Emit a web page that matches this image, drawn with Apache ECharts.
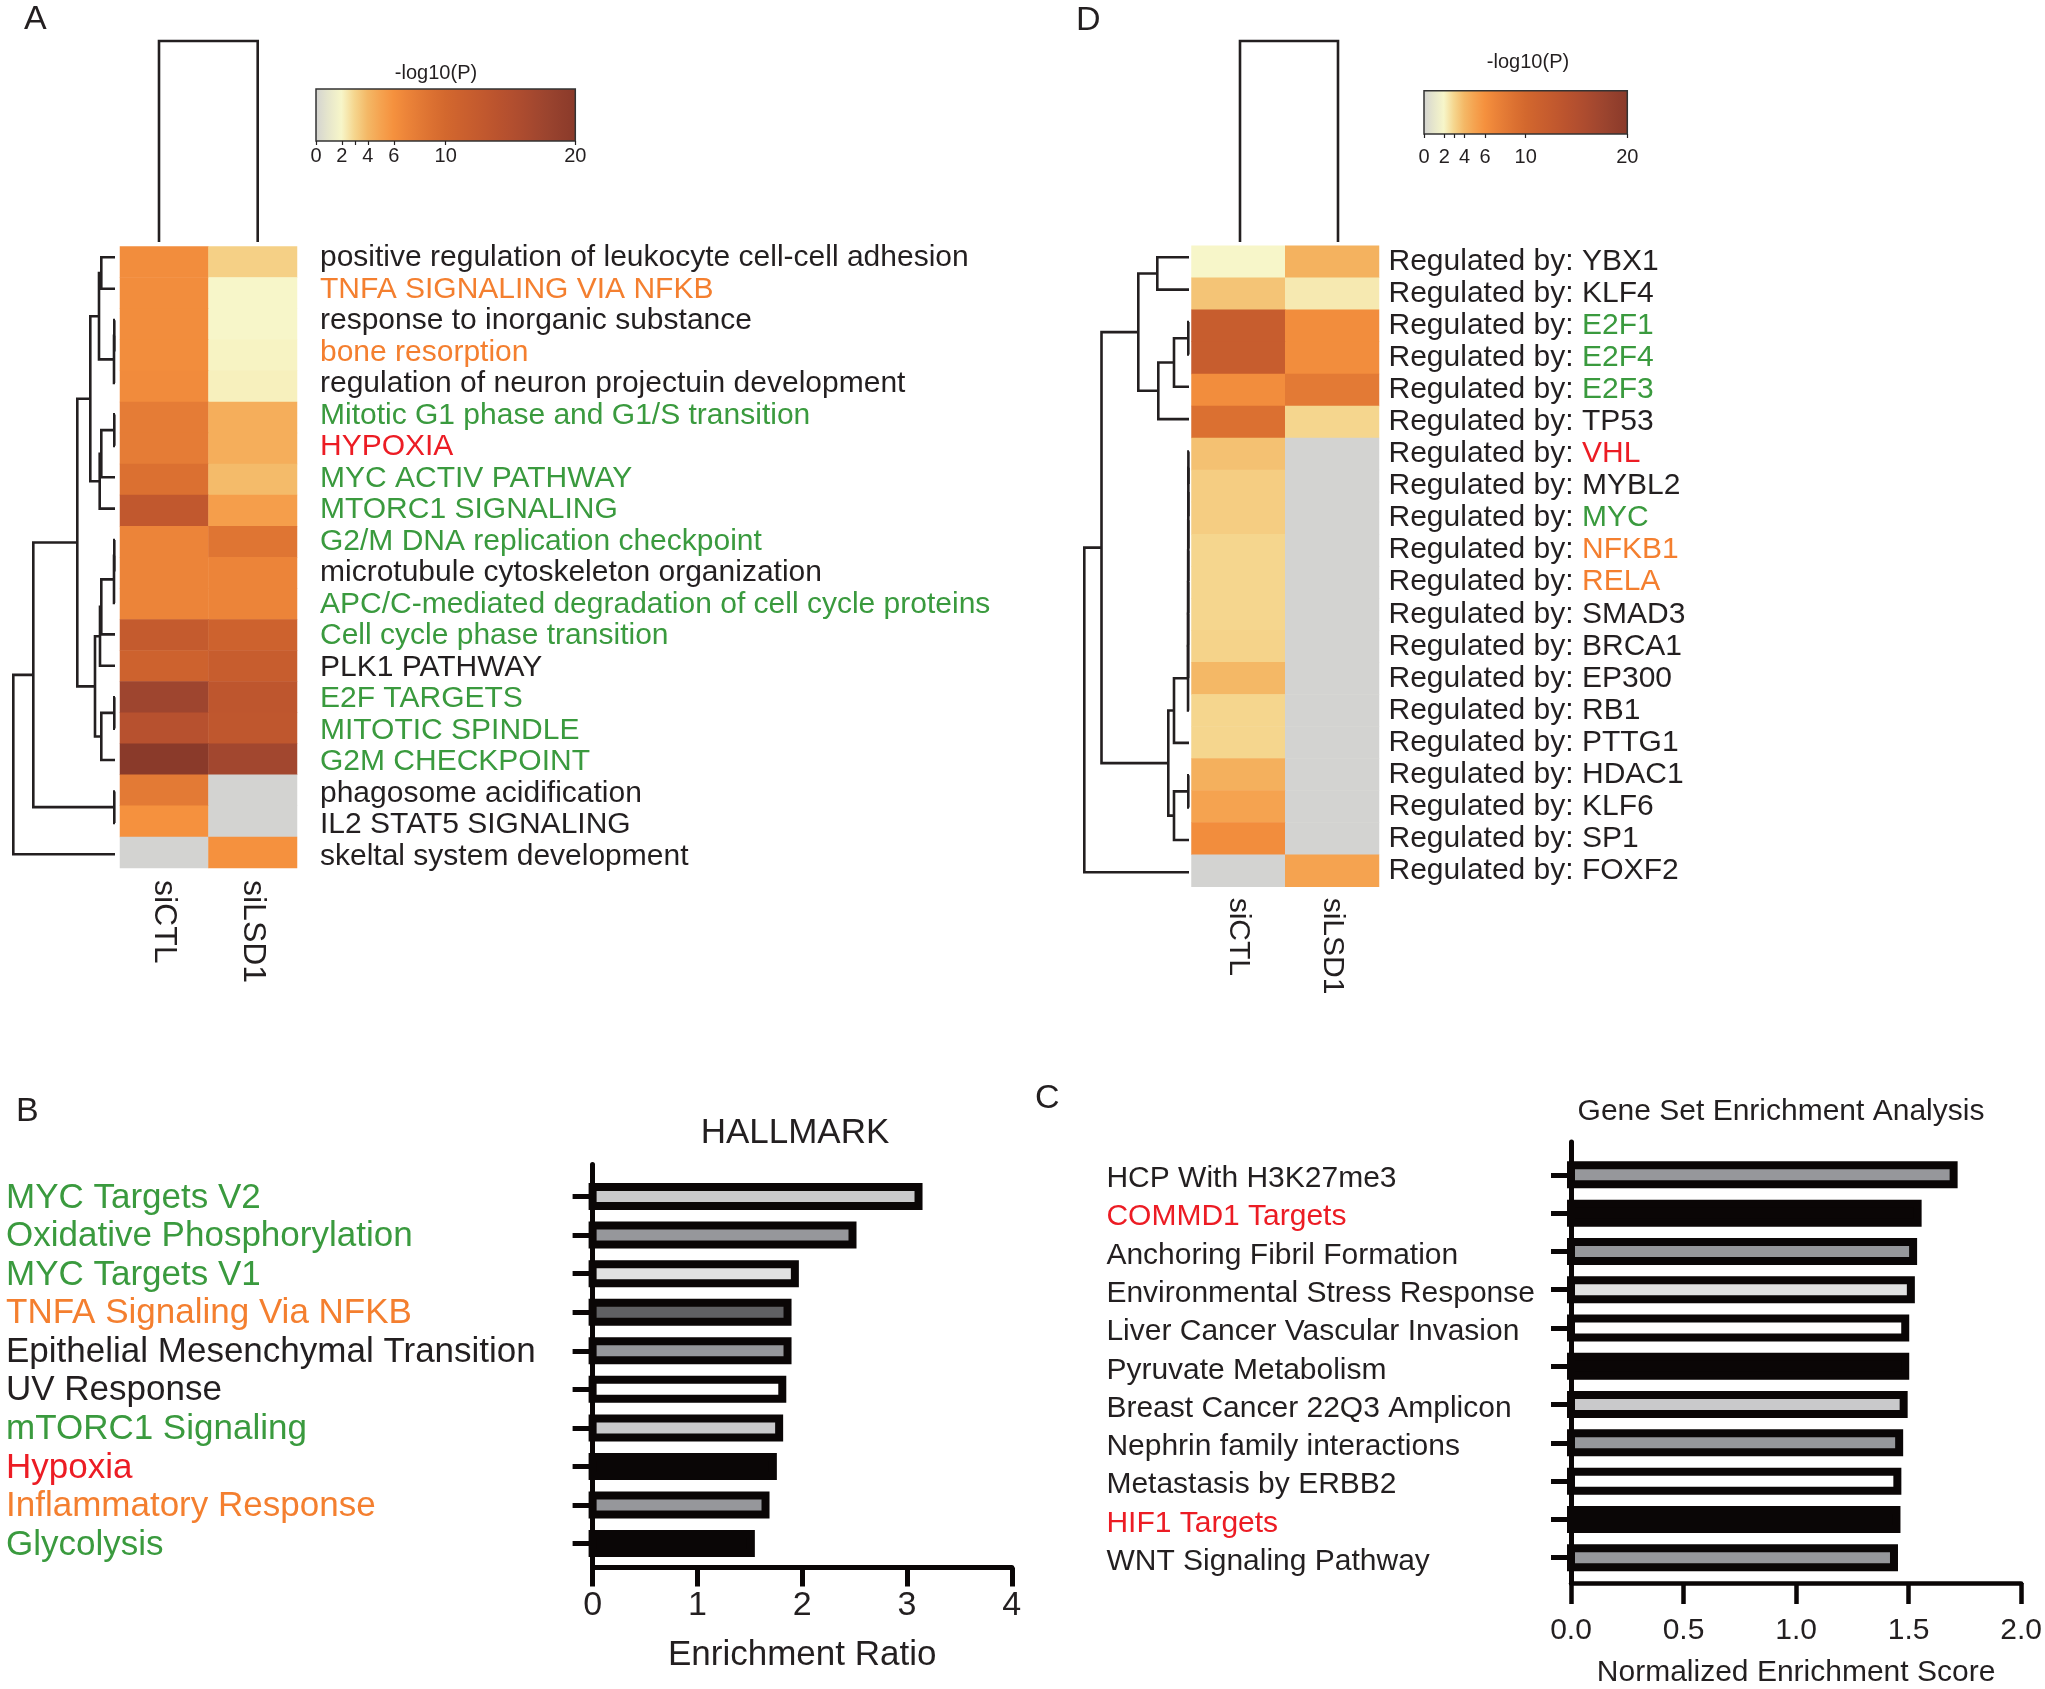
<!DOCTYPE html>
<html><head><meta charset="utf-8">
<script src="https://cdn.jsdelivr.net/npm/echarts@6/dist/echarts.min.js"></script>
<style>html,body{margin:0;padding:0;background:#fff}#c{width:2045px;height:1689px}</style>
</head><body><div id="c"></div><script>
// ---------------- DATA ----------------
// Panel A
const aRows = ['positive regulation of leukocyte cell-cell adhesion','TNFA SIGNALING VIA NFKB','response to inorganic substance','bone resorption','regulation of neuron projectuin development','Mitotic G1 phase and G1/S transition','HYPOXIA','MYC ACTIV PATHWAY','MTORC1 SIGNALING','G2/M DNA replication checkpoint','microtubule cytoskeleton organization','APC/C-mediated degradation of cell cycle proteins','Cell cycle phase transition','PLK1 PATHWAY','E2F TARGETS','MITOTIC SPINDLE','G2M CHECKPOINT','phagosome acidification','IL2 STAT5 SIGNALING','skeltal system development'];
const aRowTone = ['k','o','k','o','k','g','r','g','g','g','k','g','g','k','g','g','g','k','k','k'];
const samples = ['siCTL','siLSD1'];
const aSiCTL  = [6.3,6.3,6.3,6.3,6.5,7.8,7.8,9,13,7,7,7,12.5,11,17.5,14.5,20,8,6,0];
const aSiLSD1 = [3.2,2.0,2.0,2.1,2.2,4.5,4.5,3.9,5.3,8.5,7,7,11,12,13.5,13.3,17,0,0,6];
// row dendrogram merges: [childA, childB, height]; 'cN' = N-th merge
const aMerges = [[0,1,13.7],[2,3,0.7],['c1',4,1.0],['c0','c2',16],[5,6,0.7],['c4',7,13.7],['c5',8,15.3],['c3','c6',24.7],[9,10,0.7],['c8',11,1.0],['c9',12,13.7],['c10',13,15],[14,15,0.7],['c12',16,13.7],['c11','c13',20],['c7','c14',37.7],[17,18,0.7],['c15','c16',81.7],['c17',19,101.7]];
const colMerges = [[0,1,1]];
// Panel D
const dGenes = ['YBX1','KLF4','E2F1','E2F4','E2F3','TP53','VHL','MYBL2','MYC','NFKB1','RELA','SMAD3','BRCA1','EP300','RB1','PTTG1','HDAC1','KLF6','SP1','FOXF2'];
const dGeneTone = ['k','k','g','g','g','k','r','k','g','o','o','k','k','k','k','k','k','k','k','k'];
const dSiCTL  = [2,3.6,12,12,6.3,9,3.7,3.3,3.3,3.0,3.0,3.0,3.1,4.0,3.0,3.0,4.4,5.0,6.3,0];
const dSiLSD1 = [4.3,2.4,6.3,6.3,8,3,0,0,0,0,0,0,0,0,0,0,0,0,0,5];
const dMerges = [[0,1,31.7],[2,3,0.7],['c1',4,15],['c2',5,30.7],['c0','c3',50.7],[6,7,0.6],['c5',8,0.65],['c6',9,0.7],['c7',10,0.75],['c8',11,0.8],['c9',12,0.85],['c10',13,0.9],['c11',14,0.95],['c12',15,15],[16,17,0.7],['c14',18,15],['c13','c15',20.7],['c4','c16',87.5],['c17',19,104.7]];
// colour bar ticks
const cbTicks = [0,2,3,4,6,10,20];
const cbLabels = [0,2,4,6,10,20];
// Panel B
const bCats = ['MYC Targets V2','Oxidative Phosphorylation','MYC Targets V1','TNFA Signaling Via NFKB','Epithelial Mesenchymal Transition','UV Response','mTORC1 Signaling','Hypoxia','Inflammatory Response','Glycolysis'];
const bVals = [3.11,2.48,1.93,1.86,1.86,1.81,1.78,1.72,1.65,1.51];
const bTone = ['g','g','g','o','k','k','g','r','o','g'];
const bFill = ['#c9c9cb','#96979b','#e1e1e1','#606063','#96979b','#ffffff','#c9c9cb','#0a0606','#96979b','#0a0606'];
// Panel C
const cCats = ['HCP With H3K27me3','COMMD1 Targets','Anchoring Fibril Formation','Environmental Stress Response','Liver Cancer Vascular Invasion','Pyruvate Metabolism','Breast Cancer 22Q3 Amplicon','Nephrin family interactions','Metastasis by ERBB2','HIF1 Targets','WNT Signaling Pathway'];
const cVals = [1.70,1.54,1.52,1.51,1.485,1.485,1.478,1.458,1.45,1.446,1.435];
const cTone = ['k','r','k','k','k','k','k','k','k','r','k'];
const cFill = ['#96979b','#0a0606','#96979b','#e1e1e1','#ffffff','#0a0606','#c9c9cb','#96979b','#ffffff','#0a0606','#96979b'];

// ---------------- STYLE ----------------
const FONT = "'Liberation Sans', Arial, sans-serif";
const INK = '#231f20', BAR = '#0a0606';
const TONES = {k: INK, g: '#3a9a3e', o: '#f47f2f', r: '#ec1c24'};
const CMAP = ['#d3d3d1','#e6e6cc','#f7f6c9','#f5d68e','#f4b866','#f5a350','#f5913e','#ec8439','#e37a35','#db7031','#d3682e','#cd622e','#c75d2e','#c1582e','#ba532e','#b34f2f','#ab4b2f','#a2472f','#99432e','#913e2c','#8a3a2a'];
function rich(size, pad){const r={};for(const k in TONES){r[k]={color:TONES[k],fontSize:size,fontFamily:FONT,padding:pad||0};}return r;}

function layoutDendro(merges){
  const pos={}, ht={};
  const get=k=>typeof k==='number'?[k,0]:[pos[k],ht[k]];
  return merges.map((m,j)=>{const [p1,h1]=get(m[0]);const [p2,h2]=get(m[1]);pos['c'+j]=(p1+p2)/2;ht['c'+j]=m[2];return [p1,p2,m[2],h1,h2];});
}
function dendroRender(orient){
  return function(params, api){
    const p1=api.value(0),p2=api.value(1),h=api.value(2),h1=api.value(3),h2=api.value(4);
    const raw = orient==='row'?[[h1,p1],[h,p1],[h,p2],[h2,p2]]:[[p1,h1],[p1,h],[p2,h],[p2,h2]];
    return {type:'polyline',shape:{points:raw.map(p=>api.coord(p))},style:{stroke:INK,lineWidth:2.6,fill:null}};
  };
}
function barRender(fills){
  return function(params, api){
    const v=api.value(0), i=api.value(1);
    const p0=api.coord([0,i]), p1=api.coord([v,i]); const h=19;
    return {type:'rect',shape:{x:p0[0],y:p0[1]-h/2,width:p1[0]-p0[0],height:h},style:{fill:fills[params.dataIndex],stroke:BAR,lineWidth:8}};
  };
}
const heatA=[], heatD=[];
aRows.forEach((r,i)=>{heatA.push([0,i,aSiCTL[i]]);heatA.push([1,i,aSiLSD1[i]]);});
dGenes.forEach((r,i)=>{heatD.push([0,i,dSiCTL[i]]);heatD.push([1,i,dSiLSD1[i]]);});
const dRows = dGenes.map(g=>'Regulated by: '+g);
const idx = n=>Array.from({length:n},(_, i)=>i);

const hidden = {show:false};
function hiddenAxis(extra){return Object.assign({type:'value',show:false,splitLine:hidden},extra);}
function cbAxis(margin){return {type:'value',min:0,max:20,position:'bottom',axisLine:hidden,splitLine:hidden,
  axisTick:{show:true,customValues:cbTicks,length:4,lineStyle:{color:INK,width:1.2}},
  axisLabel:{customValues:cbLabels,fontSize:20,fontFamily:FONT,color:INK,margin:margin}};}
function barYAxis(cats,tones,min,max,margin,size,pad){return {type:'value',inverse:true,min:min,max:max,
  axisLine:{show:true,onZero:false,lineStyle:{color:BAR,width:5}},splitLine:hidden,
  axisTick:{show:true,customValues:idx(cats.length),length:20,lineStyle:{color:BAR,width:5}},
  axisLabel:{customValues:idx(cats.length),align:'left',margin:margin,
    formatter:v=>{const i=Math.round(v);return '{'+tones[i]+'|'+cats[i]+'}';},rich:rich(size,pad)}};}
function gradient(){return new echarts.graphic.LinearGradient(0,0,1,0,CMAP.map((c,i)=>({offset:i/(CMAP.length-1),color:c})));}
function txt(x,y,s,size,align){return {type:'text',x:x,y:y,z:10,style:{text:s,fontSize:size,fontFamily:FONT,fill:INK,align:align||'center',verticalAlign:'middle'}};}

const option = {
  animation:false, backgroundColor:'#fff',
  grid:[
    {left:120,top:246.5,width:177,height:621.5},        //0 A heat
    {left:13.3,top:257.3,width:101.7,height:597},      //1 A row dendro
    {left:159,top:41,width:98.7,height:201},           //2 A col dendro
    {left:316,top:89,width:259.3,height:52},           //3 A colourbar
    {left:1191.5,top:245.7,width:187.5,height:641},    //4 D heat
    {left:1084.3,top:257.3,width:104.7,height:615},    //5 D row dendro
    {left:1240,top:41,width:98,height:201},            //6 D col dendro
    {left:1424,top:90.7,width:203.3,height:43.3},      //7 D colourbar
    {left:592.6,top:1164.5,width:419.2,height:403},    //8 B
    {left:1571,top:1142,width:450.6,height:443},       //9 C
    {left:120,top:242.2,width:177,height:630}          //10 A row labels
  ],
  xAxis:[
    {gridIndex:0,type:'category',data:samples,axisLine:hidden,axisTick:hidden,splitLine:hidden,
      axisLabel:{rotate:-90,margin:12,fontSize:32,fontFamily:FONT,color:INK}},
    hiddenAxis({gridIndex:1,min:0,max:101.7,inverse:true}),
    hiddenAxis({gridIndex:2,min:0,max:1}),
    Object.assign(cbAxis(5),{gridIndex:3}),
    {gridIndex:4,type:'category',data:samples,axisLine:hidden,axisTick:hidden,splitLine:hidden,
      axisLabel:{rotate:-90,margin:11,fontSize:30,fontFamily:FONT,color:INK}},
    hiddenAxis({gridIndex:5,min:0,max:104.7,inverse:true}),
    hiddenAxis({gridIndex:6,min:0,max:1}),
    Object.assign(cbAxis(13),{gridIndex:7}),
    {gridIndex:8,type:'value',min:0,max:4,interval:1,splitLine:hidden,
      axisLine:{show:true,onZero:false,lineStyle:{color:BAR,width:5}},
      axisTick:{show:true,length:19,lineStyle:{color:BAR,width:5}},
      axisLabel:{fontSize:34,fontFamily:FONT,color:INK,margin:21},
      name:'Enrichment Ratio',nameLocation:'middle',nameGap:70,nameTextStyle:{fontSize:35,fontFamily:FONT,color:INK}},
    {gridIndex:9,type:'value',min:0,max:2,interval:0.5,splitLine:hidden,
      axisLine:{show:true,onZero:false,lineStyle:{color:BAR,width:4.5}},
      axisTick:{show:true,length:21,lineStyle:{color:BAR,width:4.5}},
      axisLabel:{fontSize:30,fontFamily:FONT,color:INK,margin:33,formatter:v=>v.toFixed(1)},
      name:'Normalized Enrichment Score',nameLocation:'middle',nameGap:75,nameTextStyle:{fontSize:30,fontFamily:FONT,color:INK}},
    hiddenAxis({gridIndex:10,min:0,max:1})
  ],
  yAxis:[
    {gridIndex:0,type:'category',data:aRows,inverse:true,show:false},
    hiddenAxis({gridIndex:1,min:0,max:19,inverse:true}),
    hiddenAxis({gridIndex:2,min:0,max:1}),
    hiddenAxis({gridIndex:3,min:0,max:1}),
    {gridIndex:4,type:'category',data:dRows,inverse:true,position:'right',axisLine:hidden,axisTick:hidden,splitLine:hidden,
      axisLabel:{margin:9.5,align:'left',formatter:(v,i)=>'{k|Regulated by: }{'+dGeneTone[i]+'|'+dGenes[i]+'}',rich:rich(30)}},
    hiddenAxis({gridIndex:5,min:0,max:19,inverse:true}),
    hiddenAxis({gridIndex:6,min:0,max:1}),
    hiddenAxis({gridIndex:7,min:0,max:1}),
    Object.assign(barYAxis(bCats,bTone,-0.83,9.62,586.6,35,[3,0,0,0]),{gridIndex:8}),
    Object.assign(barYAxis(cCats,cTone,-0.858,10.66,464.6,30,[8,0,0,0]),{gridIndex:9}),
    {gridIndex:10,type:'category',data:aRows,inverse:true,position:'right',axisLine:hidden,axisTick:hidden,splitLine:hidden,
      axisLabel:{margin:23,align:'left',formatter:(v,i)=>'{'+aRowTone[i]+'|'+v+'}',rich:rich(30)}}
  ],
  visualMap:[{type:'continuous',show:false,min:0,max:20,seriesIndex:[0,3],inRange:{color:CMAP}}],
  series:[
    {type:'heatmap',xAxisIndex:0,yAxisIndex:0,data:heatA,itemStyle:{borderWidth:0}},
    {type:'custom',xAxisIndex:1,yAxisIndex:1,data:layoutDendro(aMerges),renderItem:dendroRender('row')},
    {type:'custom',xAxisIndex:2,yAxisIndex:2,data:layoutDendro(colMerges),renderItem:dendroRender('col')},
    {type:'heatmap',xAxisIndex:4,yAxisIndex:4,data:heatD,itemStyle:{borderWidth:0}},
    {type:'custom',xAxisIndex:5,yAxisIndex:5,data:layoutDendro(dMerges),renderItem:dendroRender('row')},
    {type:'custom',xAxisIndex:6,yAxisIndex:6,data:layoutDendro(colMerges),renderItem:dendroRender('col')},
    {type:'custom',xAxisIndex:8,yAxisIndex:8,data:bVals.map((v,i)=>[v,i]),renderItem:barRender(bFill)},
    {type:'custom',xAxisIndex:9,yAxisIndex:9,data:cVals.map((v,i)=>[v,i]),renderItem:barRender(cFill)}
  ],
  graphic:[
    {type:'rect',shape:{x:316,y:89,width:259.3,height:52},style:{fill:gradient(),stroke:'#333',lineWidth:1.5}},
    {type:'rect',shape:{x:1424,y:90.7,width:203.3,height:43.3},style:{fill:gradient(),stroke:'#333',lineWidth:1.5}},
    txt(436,73,'-log10(P)',20), txt(1528,62,'-log10(P)',20),
    txt(24,20,'A',34,'left'), txt(1076,21,'D',34,'left'), txt(16,1112,'B',34,'left'), txt(1035,1099,'C',34,'left'),
    txt(795,1133,'HALLMARK',35), txt(1781,1112,'Gene Set Enrichment Analysis',30)
  ]
};
const chart = echarts.init(document.getElementById('c'), null, {renderer:'canvas'});
chart.setOption(option);
</script></body></html>
